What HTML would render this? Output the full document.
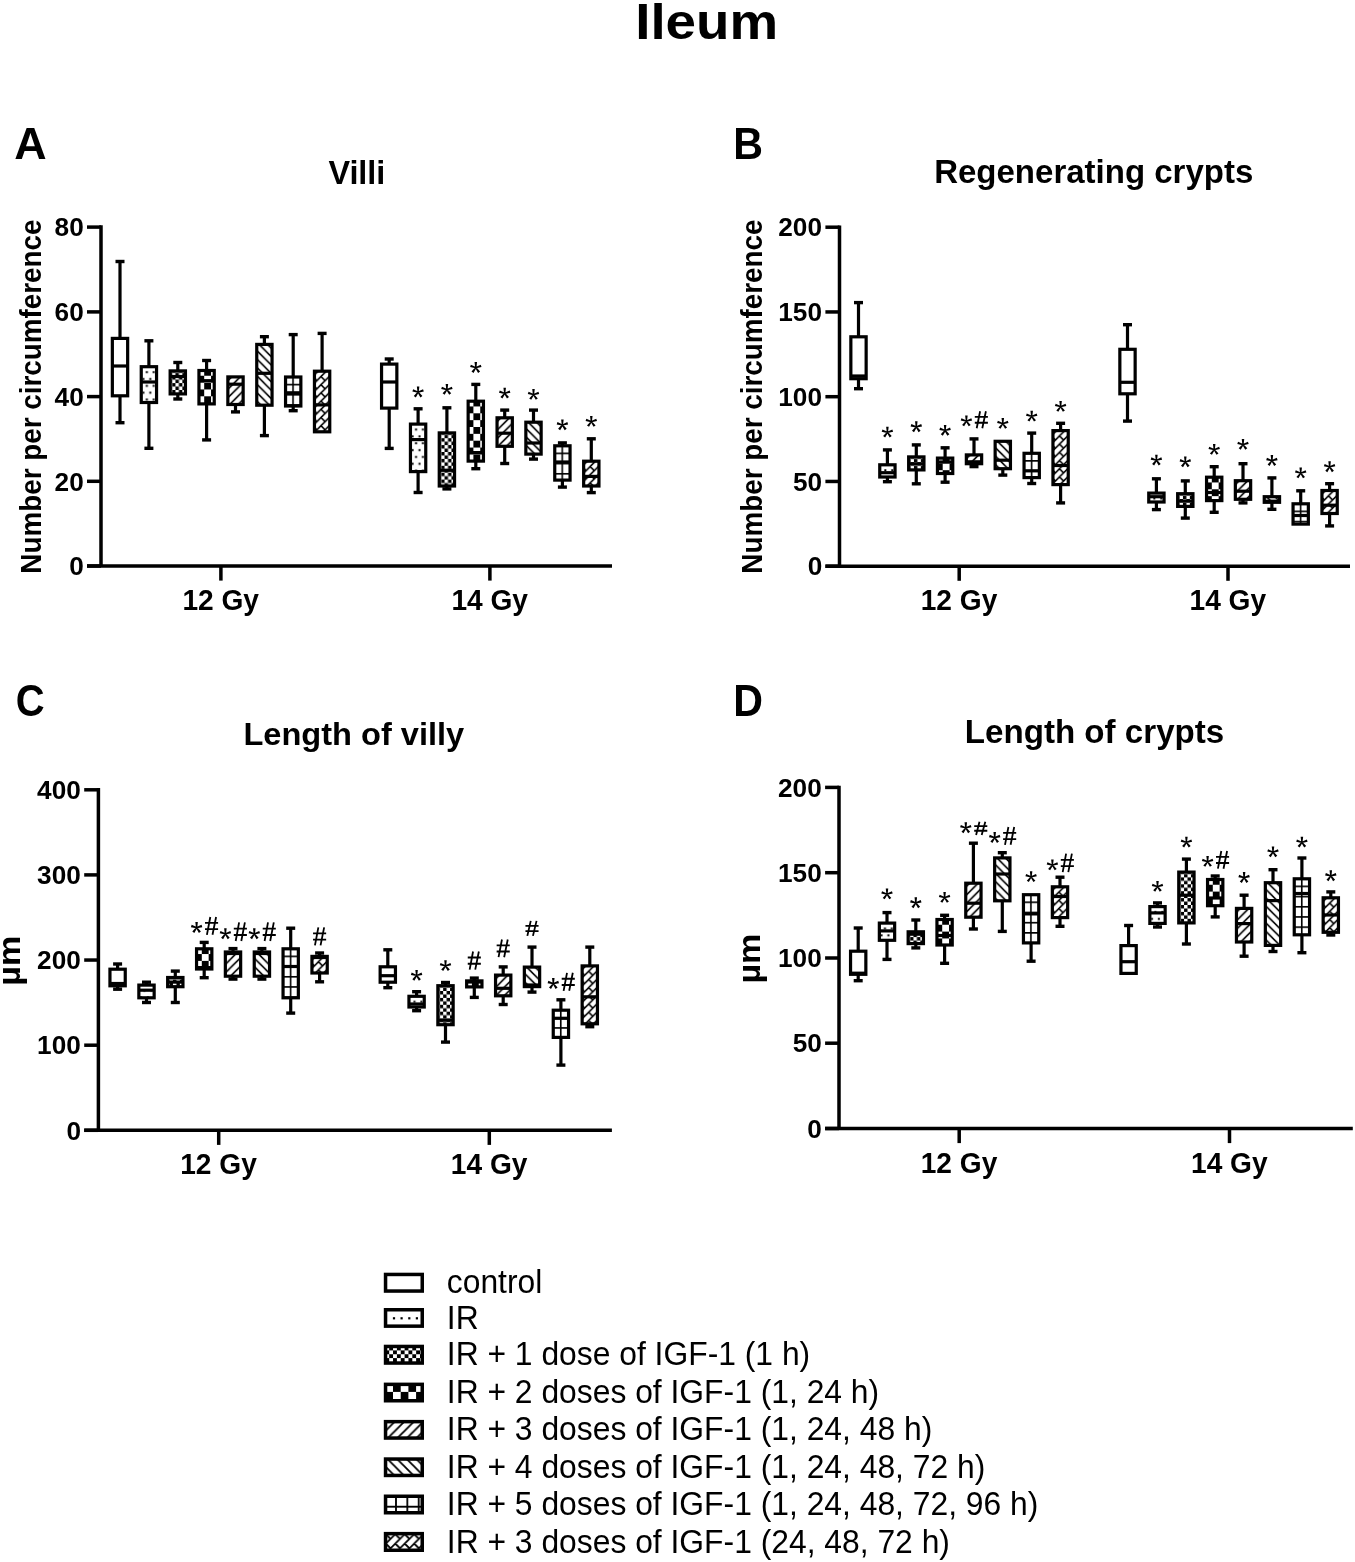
<!DOCTYPE html>
<html><head><meta charset="utf-8"><title>Ileum</title>
<style>
html,body{margin:0;padding:0;background:#fff;}
body{width:1355px;height:1562px;overflow:hidden;}
svg{display:block;will-change:transform;}
text{font-family:"Liberation Sans", sans-serif;fill:#000;}
.b{font-weight:bold;}
</style></head><body>

<svg width="1355" height="1562" viewBox="0 0 1355 1562">
<defs><pattern id="L1" patternUnits="userSpaceOnUse" x="390.2" y="1298.3" width="7.6" height="40"><rect width="7.6" height="40" fill="#fff"/><rect x="2.7" y="18.9" width="2.2" height="2.2" fill="#000"/></pattern><pattern id="L2" patternUnits="userSpaceOnUse" x="385.35" y="1346.55" width="7.7" height="7.7"><rect width="7.7" height="7.7" fill="#fff"/><rect x="3.85" width="3.85" height="3.85" fill="#000"/><rect y="3.85" width="3.85" height="3.85" fill="#000"/></pattern><pattern id="L3" patternUnits="userSpaceOnUse" x="385.3" y="1384.2" width="15.4" height="15.4"><rect width="15.4" height="15.4" fill="#fff"/><rect x="7.7" width="7.7" height="7.7" fill="#000"/><rect y="7.7" width="7.7" height="7.7" fill="#000"/></pattern><pattern id="L4" patternUnits="userSpaceOnUse" x="1.9" y="0" width="9.55" height="9.55"><rect width="9.55" height="9.55" fill="#fff"/><path d="M-2 2L2 -2M-2 11.55L11.55 -2M7.55 11.55L11.55 7.55" stroke="#000" stroke-width="1.8"/></pattern><pattern id="L5" patternUnits="userSpaceOnUse" x="0" y="5.9" width="9.6" height="9.6"><rect width="9.6" height="9.6" fill="#fff"/><path d="M-2 -2L11.6 11.6M-2 7.6L2 11.6M7.6 -2L11.6 2" stroke="#000" stroke-width="1.8"/></pattern><pattern id="L6" patternUnits="userSpaceOnUse" x="390.32" y="1501.03" width="11.35" height="11.35"><rect width="11.35" height="11.35" fill="#fff"/><path d="M0 5.67H11.35M5.67 0V11.35" stroke="#000" stroke-width="1.8"/></pattern><pattern id="L7" patternUnits="userSpaceOnUse" x="392.92" y="1531.78" width="9.45" height="9.45"><rect width="9.45" height="9.45" fill="#fff"/><path d="M-2 -2.7L-2.7 -2M-2 6.75L6.75 -2M-2 16.2L16.2 -2M-2 25.65L25.65 -2M2.36 2.36L7.09 7.09" stroke="#000" stroke-width="1.8"/></pattern></defs>
<text class="b" transform="translate(635.17,39.49) scale(1.0834,1)" font-size="50.541">Ileum</text>
<text class="b" transform="translate(14.25,159.15) scale(1.0032,1)" font-size="44.706">A</text>
<text class="b" transform="translate(733.32,158.7) scale(0.9432,1)" font-size="43.623">B</text>
<text class="b" transform="translate(15.8,716.16) scale(0.9161,1)" font-size="43.662">C</text>
<text class="b" transform="translate(733.32,716.3) scale(0.9432,1)" font-size="43.623">D</text>
<text class="b" transform="translate(328.38,183.6) scale(0.9688,1)" font-size="33.425">Villi</text>
<text class="b" transform="translate(934.19,183.19) scale(1.0171,1)" font-size="32.447">Regenerating crypts</text>
<text class="b" transform="translate(243.42,744.78) scale(1.0175,1)" font-size="32.021">Length of villy</text>
<text class="b" transform="translate(964.78,742.97) scale(1.0047,1)" font-size="32.979">Length of crypts</text>
<g stroke="#000" stroke-width="3.5" fill="none" stroke-linecap="butt">
<path d="M101 225.35 V566 M87 566 H612" />
<line x1="87" y1="227.1" x2="101" y2="227.1"/>
<line x1="87" y1="311.9" x2="101" y2="311.9"/>
<line x1="87" y1="396.6" x2="101" y2="396.6"/>
<line x1="87" y1="481.3" x2="101" y2="481.3"/>
<line x1="87" y1="566" x2="101" y2="566"/>
<line x1="220.9" y1="566" x2="220.9" y2="580.6"/>
<line x1="489.9" y1="566" x2="489.9" y2="580.6"/>
<path d="M839.5 225.45 V566.2 M825.4 566.2 H1350" />
<line x1="825.4" y1="227.2" x2="839.5" y2="227.2"/>
<line x1="825.4" y1="311.95" x2="839.5" y2="311.95"/>
<line x1="825.4" y1="396.7" x2="839.5" y2="396.7"/>
<line x1="825.4" y1="481.45" x2="839.5" y2="481.45"/>
<line x1="825.4" y1="566.2" x2="839.5" y2="566.2"/>
<line x1="959.2" y1="566.2" x2="959.2" y2="580.8"/>
<line x1="1228" y1="566.2" x2="1228" y2="580.8"/>
<path d="M98.4 788.05 V1130.3 M84.2 1130.3 H611.9" />
<line x1="84.2" y1="789.8" x2="98.4" y2="789.8"/>
<line x1="84.2" y1="874.9" x2="98.4" y2="874.9"/>
<line x1="84.2" y1="960.05" x2="98.4" y2="960.05"/>
<line x1="84.2" y1="1045.2" x2="98.4" y2="1045.2"/>
<line x1="84.2" y1="1130.3" x2="98.4" y2="1130.3"/>
<line x1="218.7" y1="1130.3" x2="218.7" y2="1144.9"/>
<line x1="489.3" y1="1130.3" x2="489.3" y2="1144.9"/>
<path d="M839 785.65 V1128.5 M825.1 1128.5 H1352.8" />
<line x1="825.1" y1="787.4" x2="839" y2="787.4"/>
<line x1="825.1" y1="872.7" x2="839" y2="872.7"/>
<line x1="825.1" y1="958" x2="839" y2="958"/>
<line x1="825.1" y1="1043.2" x2="839" y2="1043.2"/>
<line x1="825.1" y1="1128.5" x2="839" y2="1128.5"/>
<line x1="959.2" y1="1128.5" x2="959.2" y2="1143.1"/>
<line x1="1229.5" y1="1128.5" x2="1229.5" y2="1143.1"/>
</g>
<text class="b" transform="translate(54.57,236.34)" font-size="26.197">80</text>
<text class="b" transform="translate(54.57,321.14)" font-size="26.197">60</text>
<text class="b" transform="translate(54.57,405.84)" font-size="26.197">40</text>
<text class="b" transform="translate(54.57,490.54)" font-size="26.197">20</text>
<text class="b" transform="translate(69.24,575.24)" font-size="26.197">0</text>
<text class="b" transform="translate(182.41,610.06) scale(0.9620,1)" font-size="29.231">12 Gy</text>
<text class="b" transform="translate(451.41,610.06) scale(0.9620,1)" font-size="29.231">14 Gy</text>
<text class="b" transform="translate(778.3,236.44)" font-size="26.197">200</text>
<text class="b" transform="translate(778.3,321.19)" font-size="26.197">150</text>
<text class="b" transform="translate(778.3,405.94)" font-size="26.197">100</text>
<text class="b" transform="translate(792.97,490.69)" font-size="26.197">50</text>
<text class="b" transform="translate(807.64,575.44)" font-size="26.197">0</text>
<text class="b" transform="translate(920.71,610.26) scale(0.9620,1)" font-size="29.231">12 Gy</text>
<text class="b" transform="translate(1189.51,610.26) scale(0.9620,1)" font-size="29.231">14 Gy</text>
<text class="b" transform="translate(37.1,799.04)" font-size="26.197">400</text>
<text class="b" transform="translate(37.1,884.14)" font-size="26.197">300</text>
<text class="b" transform="translate(37.1,969.29)" font-size="26.197">200</text>
<text class="b" transform="translate(37.1,1054.44)" font-size="26.197">100</text>
<text class="b" transform="translate(66.44,1139.54)" font-size="26.197">0</text>
<text class="b" transform="translate(180.21,1174.36) scale(0.9620,1)" font-size="29.231">12 Gy</text>
<text class="b" transform="translate(450.81,1174.36) scale(0.9620,1)" font-size="29.231">14 Gy</text>
<text class="b" transform="translate(778,796.64)" font-size="26.197">200</text>
<text class="b" transform="translate(778,881.94)" font-size="26.197">150</text>
<text class="b" transform="translate(778,967.24)" font-size="26.197">100</text>
<text class="b" transform="translate(792.67,1052.44)" font-size="26.197">50</text>
<text class="b" transform="translate(807.34,1137.74)" font-size="26.197">0</text>
<text class="b" transform="translate(920.71,1172.56) scale(0.9620,1)" font-size="29.231">12 Gy</text>
<text class="b" transform="translate(1191.01,1172.56) scale(0.9620,1)" font-size="29.231">14 Gy</text>
<text class="b" transform="translate(41.08,573.65) rotate(-90) scale(0.9592,1)" font-size="29.019">Number per circumference</text>
<text class="b" transform="translate(762.38,573.65) rotate(-90) scale(0.9685,1)" font-size="28.742">Number per circumference</text>
<text class="b" transform="translate(19.62,985.68) rotate(-90) scale(1.0556,1)" font-size="32.267">µm</text>
<text class="b" transform="translate(760.18,983.58) rotate(-90) scale(1.0644,1)" font-size="32.000">µm</text>
<g stroke="#000" stroke-width="3.2" stroke-linecap="butt" stroke-linejoin="miter">
<line x1="120" y1="261.5" x2="120" y2="338.4"/>
<line x1="115.5" y1="261.5" x2="124.5" y2="261.5" stroke-width="3.4"/>
<line x1="120" y1="395.8" x2="120" y2="422.7"/>
<line x1="115.5" y1="422.7" x2="124.5" y2="422.7" stroke-width="3.4"/>
<rect x="112.35" y="338.4" width="15.3" height="57.4" fill="#fff"/>
<line x1="112.35" y1="366" x2="127.65" y2="366"/>
<line x1="148.9" y1="340.8" x2="148.9" y2="366.7"/>
<line x1="144.4" y1="340.8" x2="153.4" y2="340.8" stroke-width="3.4"/>
<line x1="148.9" y1="402.5" x2="148.9" y2="448.3"/>
<line x1="144.4" y1="448.3" x2="153.4" y2="448.3" stroke-width="3.4"/>
<rect x="141.25" y="366.7" width="15.3" height="35.8" fill="url(#q0)"/>
<line x1="141.25" y1="382" x2="156.55" y2="382"/>
<line x1="177.8" y1="362.5" x2="177.8" y2="370.9"/>
<line x1="173.3" y1="362.5" x2="182.3" y2="362.5" stroke-width="3.4"/>
<line x1="177.8" y1="393.9" x2="177.8" y2="399"/>
<line x1="173.3" y1="399" x2="182.3" y2="399" stroke-width="3.4"/>
<rect x="170.15" y="370.9" width="15.3" height="23" fill="url(#q1)"/>
<line x1="170.15" y1="376.5" x2="185.45" y2="376.5"/>
<line x1="206.6" y1="360.5" x2="206.6" y2="370.5"/>
<line x1="202.1" y1="360.5" x2="211.1" y2="360.5" stroke-width="3.4"/>
<line x1="206.6" y1="403.9" x2="206.6" y2="439.9"/>
<line x1="202.1" y1="439.9" x2="211.1" y2="439.9" stroke-width="3.4"/>
<rect x="198.95" y="370.5" width="15.3" height="33.4" fill="url(#q2)"/>
<line x1="198.95" y1="380.7" x2="214.25" y2="380.7"/>
<line x1="235.5" y1="404.5" x2="235.5" y2="411.9"/>
<line x1="231" y1="411.9" x2="240" y2="411.9" stroke-width="3.4"/>
<rect x="227.85" y="376.9" width="15.3" height="27.6" fill="url(#q3)"/>
<line x1="227.85" y1="384.2" x2="243.15" y2="384.2"/>
<line x1="264.4" y1="336.7" x2="264.4" y2="344.4"/>
<line x1="259.9" y1="336.7" x2="268.9" y2="336.7" stroke-width="3.4"/>
<line x1="264.4" y1="405.2" x2="264.4" y2="435.6"/>
<line x1="259.9" y1="435.6" x2="268.9" y2="435.6" stroke-width="3.4"/>
<rect x="256.75" y="344.4" width="15.3" height="60.8" fill="url(#q4)"/>
<line x1="256.75" y1="373.3" x2="272.05" y2="373.3"/>
<line x1="293.2" y1="334.6" x2="293.2" y2="377"/>
<line x1="288.7" y1="334.6" x2="297.7" y2="334.6" stroke-width="3.4"/>
<line x1="293.2" y1="406" x2="293.2" y2="410.7"/>
<line x1="288.7" y1="410.7" x2="297.7" y2="410.7" stroke-width="3.4"/>
<rect x="285.55" y="377" width="15.3" height="29" fill="url(#q5)"/>
<line x1="285.55" y1="392.8" x2="300.85" y2="392.8"/>
<line x1="322.1" y1="333.4" x2="322.1" y2="371.2"/>
<line x1="317.6" y1="333.4" x2="326.6" y2="333.4" stroke-width="3.4"/>
<rect x="314.45" y="371.2" width="15.3" height="60.6" fill="url(#q6)"/>
<line x1="314.45" y1="404.9" x2="329.75" y2="404.9"/>
<line x1="389.2" y1="359" x2="389.2" y2="364.1"/>
<line x1="384.7" y1="359" x2="393.7" y2="359" stroke-width="3.4"/>
<line x1="389.2" y1="408.1" x2="389.2" y2="448.4"/>
<line x1="384.7" y1="448.4" x2="393.7" y2="448.4" stroke-width="3.4"/>
<rect x="381.55" y="364.1" width="15.3" height="44" fill="#fff"/>
<line x1="381.55" y1="382" x2="396.85" y2="382"/>
<line x1="418.1" y1="408.8" x2="418.1" y2="424.1"/>
<line x1="413.6" y1="408.8" x2="422.6" y2="408.8" stroke-width="3.4"/>
<line x1="418.1" y1="471.6" x2="418.1" y2="492.5"/>
<line x1="413.6" y1="492.5" x2="422.6" y2="492.5" stroke-width="3.4"/>
<rect x="410.45" y="424.1" width="15.3" height="47.5" fill="url(#q7)"/>
<line x1="410.45" y1="439.6" x2="425.75" y2="439.6"/>
<line x1="446.9" y1="407.8" x2="446.9" y2="432.9"/>
<line x1="442.4" y1="407.8" x2="451.4" y2="407.8" stroke-width="3.4"/>
<line x1="446.9" y1="486" x2="446.9" y2="488.9"/>
<line x1="442.4" y1="488.9" x2="451.4" y2="488.9" stroke-width="3.4"/>
<rect x="439.25" y="432.9" width="15.3" height="53.1" fill="url(#q8)"/>
<line x1="439.25" y1="470.3" x2="454.55" y2="470.3"/>
<line x1="475.8" y1="384.4" x2="475.8" y2="401.2"/>
<line x1="471.3" y1="384.4" x2="480.3" y2="384.4" stroke-width="3.4"/>
<line x1="475.8" y1="461.1" x2="475.8" y2="468.7"/>
<line x1="471.3" y1="468.7" x2="480.3" y2="468.7" stroke-width="3.4"/>
<rect x="468.15" y="401.2" width="15.3" height="59.9" fill="url(#q9)"/>
<line x1="468.15" y1="452.6" x2="483.45" y2="452.6"/>
<line x1="504.7" y1="410.1" x2="504.7" y2="417.8"/>
<line x1="500.2" y1="410.1" x2="509.2" y2="410.1" stroke-width="3.4"/>
<line x1="504.7" y1="446.3" x2="504.7" y2="463.5"/>
<line x1="500.2" y1="463.5" x2="509.2" y2="463.5" stroke-width="3.4"/>
<rect x="497.05" y="417.8" width="15.3" height="28.5" fill="url(#q10)"/>
<line x1="497.05" y1="433.2" x2="512.35" y2="433.2"/>
<line x1="533.5" y1="410.1" x2="533.5" y2="422.2"/>
<line x1="529" y1="410.1" x2="538" y2="410.1" stroke-width="3.4"/>
<line x1="533.5" y1="454.1" x2="533.5" y2="459.1"/>
<line x1="529" y1="459.1" x2="538" y2="459.1" stroke-width="3.4"/>
<rect x="525.85" y="422.2" width="15.3" height="31.9" fill="url(#q11)"/>
<line x1="525.85" y1="443" x2="541.15" y2="443"/>
<line x1="562.4" y1="442.9" x2="562.4" y2="445.8"/>
<line x1="557.9" y1="442.9" x2="566.9" y2="442.9" stroke-width="3.4"/>
<line x1="562.4" y1="480.1" x2="562.4" y2="487.1"/>
<line x1="557.9" y1="487.1" x2="566.9" y2="487.1" stroke-width="3.4"/>
<rect x="554.75" y="445.8" width="15.3" height="34.3" fill="url(#q12)"/>
<line x1="554.75" y1="462" x2="570.05" y2="462"/>
<line x1="591.3" y1="438.8" x2="591.3" y2="461.2"/>
<line x1="586.8" y1="438.8" x2="595.8" y2="438.8" stroke-width="3.4"/>
<line x1="591.3" y1="486" x2="591.3" y2="492.6"/>
<line x1="586.8" y1="492.6" x2="595.8" y2="492.6" stroke-width="3.4"/>
<rect x="583.65" y="461.2" width="15.3" height="24.8" fill="url(#q13)"/>
<line x1="583.65" y1="476.4" x2="598.95" y2="476.4"/>
<line x1="858.5" y1="302.6" x2="858.5" y2="336.8"/>
<line x1="854" y1="302.6" x2="863" y2="302.6" stroke-width="3.4"/>
<line x1="858.5" y1="378.7" x2="858.5" y2="388.7"/>
<line x1="854" y1="388.7" x2="863" y2="388.7" stroke-width="3.4"/>
<rect x="850.85" y="336.8" width="15.3" height="41.9" fill="#fff"/>
<line x1="850.85" y1="376" x2="866.15" y2="376"/>
<line x1="887.4" y1="449.9" x2="887.4" y2="464.8"/>
<line x1="882.9" y1="449.9" x2="891.9" y2="449.9" stroke-width="3.4"/>
<line x1="887.4" y1="477" x2="887.4" y2="481.7"/>
<line x1="882.9" y1="481.7" x2="891.9" y2="481.7" stroke-width="3.4"/>
<rect x="879.75" y="464.8" width="15.3" height="12.2" fill="url(#q14)"/>
<line x1="879.75" y1="472.7" x2="895.05" y2="472.7"/>
<line x1="916.3" y1="444.9" x2="916.3" y2="456.9"/>
<line x1="911.8" y1="444.9" x2="920.8" y2="444.9" stroke-width="3.4"/>
<line x1="916.3" y1="469.9" x2="916.3" y2="483.8"/>
<line x1="911.8" y1="483.8" x2="920.8" y2="483.8" stroke-width="3.4"/>
<rect x="908.65" y="456.9" width="15.3" height="13" fill="url(#q15)"/>
<line x1="908.65" y1="463.8" x2="923.95" y2="463.8"/>
<line x1="945.1" y1="447.8" x2="945.1" y2="458.1"/>
<line x1="940.6" y1="447.8" x2="949.6" y2="447.8" stroke-width="3.4"/>
<line x1="945.1" y1="473.5" x2="945.1" y2="482.2"/>
<line x1="940.6" y1="482.2" x2="949.6" y2="482.2" stroke-width="3.4"/>
<rect x="937.45" y="458.1" width="15.3" height="15.4" fill="url(#q16)"/>
<line x1="937.45" y1="462" x2="952.75" y2="462"/>
<line x1="974" y1="438.9" x2="974" y2="454.9"/>
<line x1="969.5" y1="438.9" x2="978.5" y2="438.9" stroke-width="3.4"/>
<line x1="974" y1="463.7" x2="974" y2="466.6"/>
<line x1="969.5" y1="466.6" x2="978.5" y2="466.6" stroke-width="3.4"/>
<rect x="966.35" y="454.9" width="15.3" height="8.8" fill="url(#q17)"/>
<line x1="966.35" y1="461.8" x2="981.65" y2="461.8"/>
<line x1="1002.8" y1="468.7" x2="1002.8" y2="475.1"/>
<line x1="998.3" y1="475.1" x2="1007.3" y2="475.1" stroke-width="3.4"/>
<rect x="995.15" y="441.3" width="15.3" height="27.4" fill="url(#q18)"/>
<line x1="995.15" y1="460.2" x2="1010.45" y2="460.2"/>
<line x1="1031.7" y1="433.1" x2="1031.7" y2="453.3"/>
<line x1="1027.2" y1="433.1" x2="1036.2" y2="433.1" stroke-width="3.4"/>
<line x1="1031.7" y1="477.6" x2="1031.7" y2="483.5"/>
<line x1="1027.2" y1="483.5" x2="1036.2" y2="483.5" stroke-width="3.4"/>
<rect x="1024.05" y="453.3" width="15.3" height="24.3" fill="url(#q19)"/>
<line x1="1024.05" y1="470.8" x2="1039.35" y2="470.8"/>
<line x1="1060.6" y1="423.3" x2="1060.6" y2="430.6"/>
<line x1="1056.1" y1="423.3" x2="1065.1" y2="423.3" stroke-width="3.4"/>
<line x1="1060.6" y1="484.6" x2="1060.6" y2="502.9"/>
<line x1="1056.1" y1="502.9" x2="1065.1" y2="502.9" stroke-width="3.4"/>
<rect x="1052.95" y="430.6" width="15.3" height="54" fill="url(#q20)"/>
<line x1="1052.95" y1="465.5" x2="1068.25" y2="465.5"/>
<line x1="1127.5" y1="324.7" x2="1127.5" y2="349.3"/>
<line x1="1123" y1="324.7" x2="1132" y2="324.7" stroke-width="3.4"/>
<line x1="1127.5" y1="393.8" x2="1127.5" y2="421.1"/>
<line x1="1123" y1="421.1" x2="1132" y2="421.1" stroke-width="3.4"/>
<rect x="1119.85" y="349.3" width="15.3" height="44.5" fill="#fff"/>
<line x1="1119.85" y1="382.3" x2="1135.15" y2="382.3"/>
<line x1="1156.4" y1="478.8" x2="1156.4" y2="493.1"/>
<line x1="1151.9" y1="478.8" x2="1160.9" y2="478.8" stroke-width="3.4"/>
<line x1="1156.4" y1="502" x2="1156.4" y2="509.6"/>
<line x1="1151.9" y1="509.6" x2="1160.9" y2="509.6" stroke-width="3.4"/>
<rect x="1148.75" y="493.1" width="15.3" height="8.9" fill="url(#q21)"/>
<line x1="1148.75" y1="496.7" x2="1164.05" y2="496.7"/>
<line x1="1185.3" y1="480.9" x2="1185.3" y2="493.7"/>
<line x1="1180.8" y1="480.9" x2="1189.8" y2="480.9" stroke-width="3.4"/>
<line x1="1185.3" y1="506.4" x2="1185.3" y2="518.1"/>
<line x1="1180.8" y1="518.1" x2="1189.8" y2="518.1" stroke-width="3.4"/>
<rect x="1177.65" y="493.7" width="15.3" height="12.7" fill="url(#q22)"/>
<line x1="1177.65" y1="501" x2="1192.95" y2="501"/>
<line x1="1214.2" y1="466.7" x2="1214.2" y2="477.2"/>
<line x1="1209.7" y1="466.7" x2="1218.7" y2="466.7" stroke-width="3.4"/>
<line x1="1214.2" y1="500.6" x2="1214.2" y2="512.3"/>
<line x1="1209.7" y1="512.3" x2="1218.7" y2="512.3" stroke-width="3.4"/>
<rect x="1206.55" y="477.2" width="15.3" height="23.4" fill="url(#q23)"/>
<line x1="1206.55" y1="492.5" x2="1221.85" y2="492.5"/>
<line x1="1243" y1="463.7" x2="1243" y2="480.7"/>
<line x1="1238.5" y1="463.7" x2="1247.5" y2="463.7" stroke-width="3.4"/>
<line x1="1243" y1="499.3" x2="1243" y2="502.9"/>
<line x1="1238.5" y1="502.9" x2="1247.5" y2="502.9" stroke-width="3.4"/>
<rect x="1235.35" y="480.7" width="15.3" height="18.6" fill="url(#q24)"/>
<line x1="1235.35" y1="491.2" x2="1250.65" y2="491.2"/>
<line x1="1271.9" y1="477.9" x2="1271.9" y2="496.7"/>
<line x1="1267.4" y1="477.9" x2="1276.4" y2="477.9" stroke-width="3.4"/>
<line x1="1271.9" y1="502.3" x2="1271.9" y2="509.3"/>
<line x1="1267.4" y1="509.3" x2="1276.4" y2="509.3" stroke-width="3.4"/>
<rect x="1264.25" y="496.7" width="15.3" height="5.6" fill="url(#q25)"/>
<line x1="1264.25" y1="501.2" x2="1279.55" y2="501.2"/>
<line x1="1300.7" y1="490.8" x2="1300.7" y2="503.8"/>
<line x1="1296.2" y1="490.8" x2="1305.2" y2="490.8" stroke-width="3.4"/>
<rect x="1293.05" y="503.8" width="15.3" height="20.3" fill="url(#q26)"/>
<line x1="1293.05" y1="515.5" x2="1308.35" y2="515.5"/>
<line x1="1329.6" y1="483.7" x2="1329.6" y2="490.5"/>
<line x1="1325.1" y1="483.7" x2="1334.1" y2="483.7" stroke-width="3.4"/>
<line x1="1329.6" y1="513.5" x2="1329.6" y2="525.9"/>
<line x1="1325.1" y1="525.9" x2="1334.1" y2="525.9" stroke-width="3.4"/>
<rect x="1321.95" y="490.5" width="15.3" height="23" fill="url(#q27)"/>
<line x1="1321.95" y1="505.2" x2="1337.25" y2="505.2"/>
<line x1="117.6" y1="964" x2="117.6" y2="969.2"/>
<line x1="113.1" y1="964" x2="122.1" y2="964" stroke-width="3.4"/>
<line x1="117.6" y1="985.8" x2="117.6" y2="989.2"/>
<line x1="113.1" y1="989.2" x2="122.1" y2="989.2" stroke-width="3.4"/>
<rect x="109.95" y="969.2" width="15.3" height="16.6" fill="#fff"/>
<line x1="109.95" y1="983.5" x2="125.25" y2="983.5"/>
<line x1="146.5" y1="982.2" x2="146.5" y2="985.1"/>
<line x1="142" y1="982.2" x2="151" y2="982.2" stroke-width="3.4"/>
<line x1="146.5" y1="997.8" x2="146.5" y2="1002.5"/>
<line x1="142" y1="1002.5" x2="151" y2="1002.5" stroke-width="3.4"/>
<rect x="138.85" y="985.1" width="15.3" height="12.7" fill="url(#q28)"/>
<line x1="138.85" y1="990.2" x2="154.15" y2="990.2"/>
<line x1="175.3" y1="971.1" x2="175.3" y2="977.5"/>
<line x1="170.8" y1="971.1" x2="179.8" y2="971.1" stroke-width="3.4"/>
<line x1="175.3" y1="986.7" x2="175.3" y2="1002.5"/>
<line x1="170.8" y1="1002.5" x2="179.8" y2="1002.5" stroke-width="3.4"/>
<rect x="167.65" y="977.5" width="15.3" height="9.2" fill="url(#q29)"/>
<line x1="167.65" y1="982.1" x2="182.95" y2="982.1"/>
<line x1="204.2" y1="942.4" x2="204.2" y2="948.8"/>
<line x1="199.7" y1="942.4" x2="208.7" y2="942.4" stroke-width="3.4"/>
<line x1="204.2" y1="969" x2="204.2" y2="977.7"/>
<line x1="199.7" y1="977.7" x2="208.7" y2="977.7" stroke-width="3.4"/>
<rect x="196.55" y="948.8" width="15.3" height="20.2" fill="url(#q30)"/>
<line x1="196.55" y1="967.6" x2="211.85" y2="967.6"/>
<line x1="233" y1="948.6" x2="233" y2="952"/>
<line x1="228.5" y1="948.6" x2="237.5" y2="948.6" stroke-width="3.4"/>
<line x1="233" y1="976.2" x2="233" y2="979.1"/>
<line x1="228.5" y1="979.1" x2="237.5" y2="979.1" stroke-width="3.4"/>
<rect x="225.35" y="952" width="15.3" height="24.2" fill="url(#q31)"/>
<line x1="225.35" y1="953.5" x2="240.65" y2="953.5"/>
<line x1="261.9" y1="948.6" x2="261.9" y2="952"/>
<line x1="257.4" y1="948.6" x2="266.4" y2="948.6" stroke-width="3.4"/>
<line x1="261.9" y1="976.2" x2="261.9" y2="979.1"/>
<line x1="257.4" y1="979.1" x2="266.4" y2="979.1" stroke-width="3.4"/>
<rect x="254.25" y="952" width="15.3" height="24.2" fill="url(#q32)"/>
<line x1="254.25" y1="953.5" x2="269.55" y2="953.5"/>
<line x1="290.7" y1="928.2" x2="290.7" y2="948.8"/>
<line x1="286.2" y1="928.2" x2="295.2" y2="928.2" stroke-width="3.4"/>
<line x1="290.7" y1="997.8" x2="290.7" y2="1013.1"/>
<line x1="286.2" y1="1013.1" x2="295.2" y2="1013.1" stroke-width="3.4"/>
<rect x="283.05" y="948.8" width="15.3" height="49" fill="url(#q33)"/>
<line x1="283.05" y1="966.5" x2="298.35" y2="966.5"/>
<line x1="319.6" y1="953" x2="319.6" y2="956.4"/>
<line x1="315.1" y1="953" x2="324.1" y2="953" stroke-width="3.4"/>
<line x1="319.6" y1="973" x2="319.6" y2="981.8"/>
<line x1="315.1" y1="981.8" x2="324.1" y2="981.8" stroke-width="3.4"/>
<rect x="311.95" y="956.4" width="15.3" height="16.6" fill="url(#q34)"/>
<line x1="311.95" y1="957.5" x2="327.25" y2="957.5"/>
<line x1="387.8" y1="949.8" x2="387.8" y2="966.8"/>
<line x1="383.3" y1="949.8" x2="392.3" y2="949.8" stroke-width="3.4"/>
<line x1="387.8" y1="982.2" x2="387.8" y2="987.7"/>
<line x1="383.3" y1="987.7" x2="392.3" y2="987.7" stroke-width="3.4"/>
<rect x="380.15" y="966.8" width="15.3" height="15.4" fill="#fff"/>
<line x1="380.15" y1="975.7" x2="395.45" y2="975.7"/>
<line x1="416.6" y1="991.7" x2="416.6" y2="996.3"/>
<line x1="412.1" y1="991.7" x2="421.1" y2="991.7" stroke-width="3.4"/>
<line x1="416.6" y1="1007" x2="416.6" y2="1010.7"/>
<line x1="412.1" y1="1010.7" x2="421.1" y2="1010.7" stroke-width="3.4"/>
<rect x="408.95" y="996.3" width="15.3" height="10.7" fill="url(#q35)"/>
<line x1="408.95" y1="1004" x2="424.25" y2="1004"/>
<line x1="445.5" y1="982.5" x2="445.5" y2="985.7"/>
<line x1="441" y1="982.5" x2="450" y2="982.5" stroke-width="3.4"/>
<line x1="445.5" y1="1024.7" x2="445.5" y2="1042.1"/>
<line x1="441" y1="1042.1" x2="450" y2="1042.1" stroke-width="3.4"/>
<rect x="437.85" y="985.7" width="15.3" height="39" fill="url(#q36)"/>
<line x1="437.85" y1="1020.2" x2="453.15" y2="1020.2"/>
<line x1="474.3" y1="978.1" x2="474.3" y2="980.9"/>
<line x1="469.8" y1="978.1" x2="478.8" y2="978.1" stroke-width="3.4"/>
<line x1="474.3" y1="986.9" x2="474.3" y2="997.4"/>
<line x1="469.8" y1="997.4" x2="478.8" y2="997.4" stroke-width="3.4"/>
<rect x="466.65" y="980.9" width="15.3" height="6" fill="url(#q37)"/>
<line x1="466.65" y1="982" x2="481.95" y2="982"/>
<line x1="503.2" y1="966.9" x2="503.2" y2="975.1"/>
<line x1="498.7" y1="966.9" x2="507.7" y2="966.9" stroke-width="3.4"/>
<line x1="503.2" y1="995.8" x2="503.2" y2="1004.5"/>
<line x1="498.7" y1="1004.5" x2="507.7" y2="1004.5" stroke-width="3.4"/>
<rect x="495.55" y="975.1" width="15.3" height="20.7" fill="url(#q38)"/>
<line x1="495.55" y1="988.3" x2="510.85" y2="988.3"/>
<line x1="532" y1="947.1" x2="532" y2="967.1"/>
<line x1="527.5" y1="947.1" x2="536.5" y2="947.1" stroke-width="3.4"/>
<line x1="532" y1="986.6" x2="532" y2="992.1"/>
<line x1="527.5" y1="992.1" x2="536.5" y2="992.1" stroke-width="3.4"/>
<rect x="524.35" y="967.1" width="15.3" height="19.5" fill="url(#q39)"/>
<line x1="524.35" y1="985" x2="539.65" y2="985"/>
<line x1="560.9" y1="999.8" x2="560.9" y2="1010.2"/>
<line x1="556.4" y1="999.8" x2="565.4" y2="999.8" stroke-width="3.4"/>
<line x1="560.9" y1="1037.4" x2="560.9" y2="1065.1"/>
<line x1="556.4" y1="1065.1" x2="565.4" y2="1065.1" stroke-width="3.4"/>
<rect x="553.25" y="1010.2" width="15.3" height="27.2" fill="url(#q40)"/>
<line x1="553.25" y1="1018.3" x2="568.55" y2="1018.3"/>
<line x1="589.8" y1="947.1" x2="589.8" y2="965.9"/>
<line x1="585.3" y1="947.1" x2="594.3" y2="947.1" stroke-width="3.4"/>
<line x1="589.8" y1="1023.8" x2="589.8" y2="1026.7"/>
<line x1="585.3" y1="1026.7" x2="594.3" y2="1026.7" stroke-width="3.4"/>
<rect x="582.15" y="965.9" width="15.3" height="57.9" fill="url(#q41)"/>
<line x1="582.15" y1="996.8" x2="597.45" y2="996.8"/>
<line x1="858.2" y1="928" x2="858.2" y2="951.2"/>
<line x1="853.7" y1="928" x2="862.7" y2="928" stroke-width="3.4"/>
<line x1="858.2" y1="974.3" x2="858.2" y2="980.7"/>
<line x1="853.7" y1="980.7" x2="862.7" y2="980.7" stroke-width="3.4"/>
<rect x="850.55" y="951.2" width="15.3" height="23.1" fill="#fff"/>
<line x1="850.55" y1="973.2" x2="865.85" y2="973.2"/>
<line x1="887" y1="912.6" x2="887" y2="923.1"/>
<line x1="882.5" y1="912.6" x2="891.5" y2="912.6" stroke-width="3.4"/>
<line x1="887" y1="940.3" x2="887" y2="959.4"/>
<line x1="882.5" y1="959.4" x2="891.5" y2="959.4" stroke-width="3.4"/>
<rect x="879.35" y="923.1" width="15.3" height="17.2" fill="url(#q42)"/>
<line x1="879.35" y1="930.9" x2="894.65" y2="930.9"/>
<line x1="915.8" y1="920" x2="915.8" y2="931.8"/>
<line x1="911.3" y1="920" x2="920.3" y2="920" stroke-width="3.4"/>
<line x1="915.8" y1="943.6" x2="915.8" y2="947.9"/>
<line x1="911.3" y1="947.9" x2="920.3" y2="947.9" stroke-width="3.4"/>
<rect x="908.15" y="931.8" width="15.3" height="11.8" fill="url(#q43)"/>
<line x1="908.15" y1="934.2" x2="923.45" y2="934.2"/>
<line x1="944.6" y1="915.3" x2="944.6" y2="919.5"/>
<line x1="940.1" y1="915.3" x2="949.1" y2="915.3" stroke-width="3.4"/>
<line x1="944.6" y1="945" x2="944.6" y2="963.3"/>
<line x1="940.1" y1="963.3" x2="949.1" y2="963.3" stroke-width="3.4"/>
<rect x="936.95" y="919.5" width="15.3" height="25.5" fill="url(#q44)"/>
<line x1="936.95" y1="935.5" x2="952.25" y2="935.5"/>
<line x1="973.4" y1="843.2" x2="973.4" y2="883.2"/>
<line x1="968.9" y1="843.2" x2="977.9" y2="843.2" stroke-width="3.4"/>
<line x1="973.4" y1="917.2" x2="973.4" y2="929"/>
<line x1="968.9" y1="929" x2="977.9" y2="929" stroke-width="3.4"/>
<rect x="965.75" y="883.2" width="15.3" height="34" fill="url(#q45)"/>
<line x1="965.75" y1="903.2" x2="981.05" y2="903.2"/>
<line x1="1002.3" y1="852.7" x2="1002.3" y2="857.9"/>
<line x1="997.8" y1="852.7" x2="1006.8" y2="852.7" stroke-width="3.4"/>
<line x1="1002.3" y1="900.8" x2="1002.3" y2="931.4"/>
<line x1="997.8" y1="931.4" x2="1006.8" y2="931.4" stroke-width="3.4"/>
<rect x="994.65" y="857.9" width="15.3" height="42.9" fill="url(#q46)"/>
<line x1="994.65" y1="874" x2="1009.95" y2="874"/>
<line x1="1031.1" y1="942.9" x2="1031.1" y2="961.2"/>
<line x1="1026.6" y1="961.2" x2="1035.6" y2="961.2" stroke-width="3.4"/>
<rect x="1023.45" y="894.7" width="15.3" height="48.2" fill="url(#q47)"/>
<line x1="1023.45" y1="913.9" x2="1038.75" y2="913.9"/>
<line x1="1060" y1="877.2" x2="1060" y2="886.8"/>
<line x1="1055.5" y1="877.2" x2="1064.5" y2="877.2" stroke-width="3.4"/>
<line x1="1060" y1="917.6" x2="1060" y2="926.3"/>
<line x1="1055.5" y1="926.3" x2="1064.5" y2="926.3" stroke-width="3.4"/>
<rect x="1052.35" y="886.8" width="15.3" height="30.8" fill="url(#q48)"/>
<line x1="1052.35" y1="896.5" x2="1067.65" y2="896.5"/>
<line x1="1128.6" y1="925.5" x2="1128.6" y2="945.6"/>
<line x1="1124.1" y1="925.5" x2="1133.1" y2="925.5" stroke-width="3.4"/>
<rect x="1120.95" y="945.6" width="15.3" height="27.8" fill="#fff"/>
<line x1="1120.95" y1="961.7" x2="1136.25" y2="961.7"/>
<line x1="1157.5" y1="902.9" x2="1157.5" y2="906.6"/>
<line x1="1153" y1="902.9" x2="1162" y2="902.9" stroke-width="3.4"/>
<line x1="1157.5" y1="923.4" x2="1157.5" y2="927"/>
<line x1="1153" y1="927" x2="1162" y2="927" stroke-width="3.4"/>
<rect x="1149.85" y="906.6" width="15.3" height="16.8" fill="url(#q49)"/>
<line x1="1149.85" y1="912.9" x2="1165.15" y2="912.9"/>
<line x1="1186.4" y1="859.1" x2="1186.4" y2="872.1"/>
<line x1="1181.9" y1="859.1" x2="1190.9" y2="859.1" stroke-width="3.4"/>
<line x1="1186.4" y1="922.9" x2="1186.4" y2="944"/>
<line x1="1181.9" y1="944" x2="1190.9" y2="944" stroke-width="3.4"/>
<rect x="1178.75" y="872.1" width="15.3" height="50.8" fill="url(#q50)"/>
<line x1="1178.75" y1="895.2" x2="1194.05" y2="895.2"/>
<line x1="1215.2" y1="876" x2="1215.2" y2="879.5"/>
<line x1="1210.7" y1="876" x2="1219.7" y2="876" stroke-width="3.4"/>
<line x1="1215.2" y1="905.7" x2="1215.2" y2="916.9"/>
<line x1="1210.7" y1="916.9" x2="1219.7" y2="916.9" stroke-width="3.4"/>
<rect x="1207.55" y="879.5" width="15.3" height="26.2" fill="url(#q51)"/>
<line x1="1207.55" y1="898" x2="1222.85" y2="898"/>
<line x1="1244.1" y1="895.2" x2="1244.1" y2="908.4"/>
<line x1="1239.6" y1="895.2" x2="1248.6" y2="895.2" stroke-width="3.4"/>
<line x1="1244.1" y1="942" x2="1244.1" y2="956.2"/>
<line x1="1239.6" y1="956.2" x2="1248.6" y2="956.2" stroke-width="3.4"/>
<rect x="1236.45" y="908.4" width="15.3" height="33.6" fill="url(#q52)"/>
<line x1="1236.45" y1="923.6" x2="1251.75" y2="923.6"/>
<line x1="1273" y1="869.7" x2="1273" y2="882.7"/>
<line x1="1268.5" y1="869.7" x2="1277.5" y2="869.7" stroke-width="3.4"/>
<line x1="1273" y1="945.4" x2="1273" y2="951.5"/>
<line x1="1268.5" y1="951.5" x2="1277.5" y2="951.5" stroke-width="3.4"/>
<rect x="1265.35" y="882.7" width="15.3" height="62.7" fill="url(#q53)"/>
<line x1="1265.35" y1="900.6" x2="1280.65" y2="900.6"/>
<line x1="1301.9" y1="858" x2="1301.9" y2="878.8"/>
<line x1="1297.4" y1="858" x2="1306.4" y2="858" stroke-width="3.4"/>
<line x1="1301.9" y1="934.8" x2="1301.9" y2="952.7"/>
<line x1="1297.4" y1="952.7" x2="1306.4" y2="952.7" stroke-width="3.4"/>
<rect x="1294.25" y="878.8" width="15.3" height="56" fill="url(#q54)"/>
<line x1="1294.25" y1="893.5" x2="1309.55" y2="893.5"/>
<line x1="1330.8" y1="891.9" x2="1330.8" y2="897.8"/>
<line x1="1326.3" y1="891.9" x2="1335.3" y2="891.9" stroke-width="3.4"/>
<line x1="1330.8" y1="932.3" x2="1330.8" y2="935"/>
<line x1="1326.3" y1="935" x2="1335.3" y2="935" stroke-width="3.4"/>
<rect x="1323.15" y="897.8" width="15.3" height="34.5" fill="url(#q55)"/>
<line x1="1323.15" y1="915" x2="1338.45" y2="915"/>
</g>
<path d="M418.75 392.15L419.35 386.55L416.85 386.55L417.45 392.15ZM418.3 392.77L423.81 391.61L423.04 389.23L417.9 391.53ZM417.57 392.53L420.38 397.42L422.4 395.95L418.63 391.77ZM417.57 391.77L413.8 395.95L415.82 397.42L418.63 392.53ZM418.3 391.53L413.16 389.23L412.39 391.61L417.9 392.77Z" fill="#000"/>
<path d="M447.55 389.55L448.15 383.95L445.65 383.95L446.25 389.55ZM447.1 390.17L452.61 389.01L451.84 386.63L446.7 388.93ZM446.37 389.93L449.18 394.82L451.2 393.35L447.43 389.17ZM446.37 389.17L442.6 393.35L444.62 394.82L447.43 389.93ZM447.1 388.93L441.96 386.63L441.19 389.01L446.7 390.17Z" fill="#000"/>
<path d="M476.45 367.65L477.05 362.05L474.55 362.05L475.15 367.65ZM476 368.27L481.51 367.11L480.74 364.73L475.6 367.03ZM475.27 368.03L478.08 372.92L480.1 371.45L476.33 367.27ZM475.27 367.27L471.5 371.45L473.52 372.92L476.33 368.03ZM476 367.03L470.86 364.73L470.09 367.11L475.6 368.27Z" fill="#000"/>
<path d="M505.35 393.3L505.95 387.7L503.45 387.7L504.05 393.3ZM504.9 393.92L510.41 392.76L509.64 390.38L504.5 392.68ZM504.17 393.68L506.98 398.57L509 397.1L505.23 392.92ZM504.17 392.92L500.4 397.1L502.42 398.57L505.23 393.68ZM504.9 392.68L499.76 390.38L498.99 392.76L504.5 393.92Z" fill="#000"/>
<path d="M534.15 394.6L534.75 389L532.25 389L532.85 394.6ZM533.7 395.22L539.21 394.06L538.44 391.68L533.3 393.98ZM532.97 394.98L535.78 399.87L537.8 398.4L534.03 394.22ZM532.97 394.22L529.2 398.4L531.22 399.87L534.03 394.98ZM533.7 393.98L528.56 391.68L527.79 394.06L533.3 395.22Z" fill="#000"/>
<path d="M563.05 425L563.65 419.4L561.15 419.4L561.75 425ZM562.6 425.62L568.11 424.46L567.34 422.08L562.2 424.38ZM561.87 425.38L564.68 430.27L566.7 428.8L562.93 424.62ZM561.87 424.62L558.1 428.8L560.12 430.27L562.93 425.38ZM562.6 424.38L557.46 422.08L556.69 424.46L562.2 425.62Z" fill="#000"/>
<path d="M591.95 421.6L592.55 416L590.05 416L590.65 421.6ZM591.5 422.22L597.01 421.06L596.24 418.68L591.1 420.98ZM590.77 421.98L593.58 426.87L595.6 425.4L591.83 421.22ZM590.77 421.22L587 425.4L589.02 426.87L591.83 421.98ZM591.5 420.98L586.36 418.68L585.59 421.06L591.1 422.22Z" fill="#000"/>
<path d="M888.05 432.3L888.65 426.7L886.15 426.7L886.75 432.3ZM887.6 432.92L893.11 431.76L892.34 429.38L887.2 431.68ZM886.87 432.68L889.68 437.57L891.7 436.1L887.93 431.92ZM886.87 431.92L883.1 436.1L885.12 437.57L887.93 432.68ZM887.6 431.68L882.46 429.38L881.69 431.76L887.2 432.92Z" fill="#000"/>
<path d="M916.95 426.95L917.55 421.35L915.05 421.35L915.65 426.95ZM916.5 427.57L922.01 426.41L921.24 424.03L916.1 426.33ZM915.77 427.33L918.58 432.22L920.6 430.75L916.83 426.57ZM915.77 426.57L912 430.75L914.02 432.22L916.83 427.33ZM916.5 426.33L911.36 424.03L910.59 426.41L916.1 427.57Z" fill="#000"/>
<path d="M945.75 430.5L946.35 424.9L943.85 424.9L944.45 430.5ZM945.3 431.12L950.81 429.96L950.04 427.58L944.9 429.88ZM944.57 430.88L947.38 435.77L949.4 434.3L945.63 430.12ZM944.57 430.12L940.8 434.3L942.82 435.77L945.63 430.88ZM945.3 429.88L940.16 427.58L939.39 429.96L944.9 431.12Z" fill="#000"/>
<path d="M967.05 421.1L967.65 415.5L965.15 415.5L965.75 421.1ZM966.6 421.72L972.11 420.56L971.34 418.18L966.2 420.48ZM965.87 421.48L968.68 426.37L970.7 424.9L966.93 420.72ZM965.87 420.72L962.1 424.9L964.12 426.37L966.93 421.48ZM966.6 420.48L961.46 418.18L960.69 420.56L966.2 421.72Z" fill="#000"/>
<path d="M980.1 411.3L976.7 428.2M985.9 411.3L982.3 428.2M974.8 416.9H987.9M974.8 422.74H987.9" stroke="#000" stroke-width="1.8" fill="none"/>
<path d="M1003.45 423.6L1004.05 418L1001.55 418L1002.15 423.6ZM1003 424.22L1008.51 423.06L1007.74 420.68L1002.6 422.98ZM1002.27 423.98L1005.08 428.87L1007.1 427.4L1003.33 423.22ZM1002.27 423.22L998.5 427.4L1000.52 428.87L1003.33 423.98ZM1003 422.98L997.86 420.68L997.09 423.06L1002.6 424.22Z" fill="#000"/>
<path d="M1032.35 416.35L1032.95 410.75L1030.45 410.75L1031.05 416.35ZM1031.9 416.97L1037.41 415.81L1036.64 413.43L1031.5 415.73ZM1031.17 416.73L1033.98 421.62L1036 420.15L1032.23 415.97ZM1031.17 415.97L1027.4 420.15L1029.42 421.62L1032.23 416.73ZM1031.9 415.73L1026.76 413.43L1025.99 415.81L1031.5 416.97Z" fill="#000"/>
<path d="M1061.25 406.6L1061.85 401L1059.35 401L1059.95 406.6ZM1060.8 407.22L1066.31 406.06L1065.54 403.68L1060.4 405.98ZM1060.07 406.98L1062.88 411.87L1064.9 410.4L1061.13 406.22ZM1060.07 406.22L1056.3 410.4L1058.32 411.87L1061.13 406.98ZM1060.8 405.98L1055.66 403.68L1054.89 406.06L1060.4 407.22Z" fill="#000"/>
<path d="M1157.05 460.25L1157.65 454.65L1155.15 454.65L1155.75 460.25ZM1156.6 460.87L1162.11 459.71L1161.34 457.33L1156.2 459.63ZM1155.87 460.63L1158.68 465.52L1160.7 464.05L1156.93 459.87ZM1155.87 459.87L1152.1 464.05L1154.12 465.52L1156.93 460.63ZM1156.6 459.63L1151.46 457.33L1150.69 459.71L1156.2 460.87Z" fill="#000"/>
<path d="M1185.95 462L1186.55 456.4L1184.05 456.4L1184.65 462ZM1185.5 462.62L1191.01 461.46L1190.24 459.08L1185.1 461.38ZM1184.77 462.38L1187.58 467.27L1189.6 465.8L1185.83 461.62ZM1184.77 461.62L1181 465.8L1183.02 467.27L1185.83 462.38ZM1185.5 461.38L1180.36 459.08L1179.59 461.46L1185.1 462.62Z" fill="#000"/>
<path d="M1214.85 449.6L1215.45 444L1212.95 444L1213.55 449.6ZM1214.4 450.22L1219.91 449.06L1219.14 446.68L1214 448.98ZM1213.67 449.98L1216.48 454.87L1218.5 453.4L1214.73 449.22ZM1213.67 449.22L1209.9 453.4L1211.92 454.87L1214.73 449.98ZM1214.4 448.98L1209.26 446.68L1208.49 449.06L1214 450.22Z" fill="#000"/>
<path d="M1243.65 444.55L1244.25 438.95L1241.75 438.95L1242.35 444.55ZM1243.2 445.17L1248.71 444.01L1247.94 441.63L1242.8 443.93ZM1242.47 444.93L1245.28 449.82L1247.3 448.35L1243.53 444.17ZM1242.47 444.17L1238.7 448.35L1240.72 449.82L1243.53 444.93ZM1243.2 443.93L1238.06 441.63L1237.29 444.01L1242.8 445.17Z" fill="#000"/>
<path d="M1272.55 460.7L1273.15 455.1L1270.65 455.1L1271.25 460.7ZM1272.1 461.32L1277.61 460.16L1276.84 457.78L1271.7 460.08ZM1271.37 461.08L1274.18 465.97L1276.2 464.5L1272.43 460.32ZM1271.37 460.32L1267.6 464.5L1269.62 465.97L1272.43 461.08ZM1272.1 460.08L1266.96 457.78L1266.19 460.16L1271.7 461.32Z" fill="#000"/>
<path d="M1301.35 473.1L1301.95 467.5L1299.45 467.5L1300.05 473.1ZM1300.9 473.72L1306.41 472.56L1305.64 470.18L1300.5 472.48ZM1300.17 473.48L1302.98 478.37L1305 476.9L1301.23 472.72ZM1300.17 472.72L1296.4 476.9L1298.42 478.37L1301.23 473.48ZM1300.9 472.48L1295.76 470.18L1294.99 472.56L1300.5 473.72Z" fill="#000"/>
<path d="M1330.25 466.9L1330.85 461.3L1328.35 461.3L1328.95 466.9ZM1329.8 467.52L1335.31 466.36L1334.54 463.98L1329.4 466.28ZM1329.07 467.28L1331.88 472.17L1333.9 470.7L1330.13 466.52ZM1329.07 466.52L1325.3 470.7L1327.32 472.17L1330.13 467.28ZM1329.8 466.28L1324.66 463.98L1323.89 466.36L1329.4 467.52Z" fill="#000"/>
<path d="M197.25 927.7L197.85 922.1L195.35 922.1L195.95 927.7ZM196.8 928.32L202.31 927.16L201.54 924.78L196.4 927.08ZM196.07 928.08L198.88 932.97L200.9 931.5L197.13 927.32ZM196.07 927.32L192.3 931.5L194.32 932.97L197.13 928.08ZM196.8 927.08L191.66 924.78L190.89 927.16L196.4 928.32Z" fill="#000"/>
<path d="M210.3 917L206.9 934.8M216.1 917L212.5 934.8M205 922.9H218.1M205 929.05H218.1" stroke="#000" stroke-width="1.8" fill="none"/>
<path d="M226.05 933.9L226.65 928.3L224.15 928.3L224.75 933.9ZM225.6 934.52L231.11 933.36L230.34 930.98L225.2 933.28ZM224.87 934.28L227.68 939.17L229.7 937.7L225.93 933.52ZM224.87 933.52L221.1 937.7L223.12 939.17L225.93 934.28ZM225.6 933.28L220.46 930.98L219.69 933.36L225.2 934.52Z" fill="#000"/>
<path d="M239.1 922.4L235.7 941M244.9 922.4L241.3 941M233.8 928.57H246.9M233.8 934.99H246.9" stroke="#000" stroke-width="1.8" fill="none"/>
<path d="M254.95 933.9L255.55 928.3L253.05 928.3L253.65 933.9ZM254.5 934.52L260.01 933.36L259.24 930.98L254.1 933.28ZM253.77 934.28L256.58 939.17L258.6 937.7L254.83 933.52ZM253.77 933.52L250 937.7L252.02 939.17L254.83 934.28ZM254.5 933.28L249.36 930.98L248.59 933.36L254.1 934.52Z" fill="#000"/>
<path d="M268 922.4L264.6 941M273.8 922.4L270.2 941M262.7 928.57H275.8M262.7 934.99H275.8" stroke="#000" stroke-width="1.8" fill="none"/>
<path d="M318.35 927.4L314.95 945.4M324.15 927.4L320.55 945.4M313.05 933.37H326.15M313.05 939.59H326.15" stroke="#000" stroke-width="1.8" fill="none"/>
<path d="M417.25 975.5L417.85 969.9L415.35 969.9L415.95 975.5ZM416.8 976.12L422.31 974.96L421.54 972.58L416.4 974.88ZM416.07 975.88L418.88 980.77L420.9 979.3L417.13 975.12ZM416.07 975.12L412.3 979.3L414.32 980.77L417.13 975.88ZM416.8 974.88L411.66 972.58L410.89 974.96L416.4 976.12Z" fill="#000"/>
<path d="M446.15 965.8L446.75 960.2L444.25 960.2L444.85 965.8ZM445.7 966.42L451.21 965.26L450.44 962.88L445.3 965.18ZM444.97 966.18L447.78 971.07L449.8 969.6L446.03 965.42ZM444.97 965.42L441.2 969.6L443.22 971.07L446.03 966.18ZM445.7 965.18L440.56 962.88L439.79 965.26L445.3 966.42Z" fill="#000"/>
<path d="M473.05 951.5L469.65 969.6M478.85 951.5L475.25 969.6M467.75 957.5H480.85M467.75 963.75H480.85" stroke="#000" stroke-width="1.8" fill="none"/>
<path d="M501.95 939.5L498.55 957.2M507.75 939.5L504.15 957.2M496.65 945.37H509.75M496.65 951.48H509.75" stroke="#000" stroke-width="1.8" fill="none"/>
<path d="M530.75 920.9L527.35 935.9M536.55 920.9L532.95 935.9M525.45 925.87H538.55M525.45 931.05H538.55" stroke="#000" stroke-width="1.8" fill="none"/>
<path d="M553.95 983.7L554.55 978.1L552.05 978.1L552.65 983.7ZM553.5 984.32L559.01 983.16L558.24 980.78L553.1 983.08ZM552.77 984.08L555.58 988.97L557.6 987.5L553.83 983.32ZM552.77 983.32L549 987.5L551.02 988.97L553.83 984.08ZM553.5 983.08L548.36 980.78L547.59 983.16L553.1 984.32Z" fill="#000"/>
<path d="M567 972.8L563.6 990.8M572.8 972.8L569.2 990.8M561.7 978.77H574.8M561.7 984.99H574.8" stroke="#000" stroke-width="1.8" fill="none"/>
<path d="M887.65 894.1L888.25 888.5L885.75 888.5L886.35 894.1ZM887.2 894.72L892.71 893.56L891.94 891.18L886.8 893.48ZM886.47 894.48L889.28 899.37L891.3 897.9L887.53 893.72ZM886.47 893.72L882.7 897.9L884.72 899.37L887.53 894.48ZM887.2 893.48L882.06 891.18L881.29 893.56L886.8 894.72Z" fill="#000"/>
<path d="M916.45 902.95L917.05 897.35L914.55 897.35L915.15 902.95ZM916 903.57L921.51 902.41L920.74 900.03L915.6 902.33ZM915.27 903.33L918.08 908.22L920.1 906.75L916.33 902.57ZM915.27 902.57L911.5 906.75L913.52 908.22L916.33 903.33ZM916 902.33L910.86 900.03L910.09 902.41L915.6 903.57Z" fill="#000"/>
<path d="M945.25 897.6L945.85 892L943.35 892L943.95 897.6ZM944.8 898.22L950.31 897.06L949.54 894.68L944.4 896.98ZM944.07 897.98L946.88 902.87L948.9 901.4L945.13 897.22ZM944.07 897.22L940.3 901.4L942.32 902.87L945.13 897.98ZM944.8 896.98L939.66 894.68L938.89 897.06L944.4 898.22Z" fill="#000"/>
<path d="M966.45 827.9L967.05 822.3L964.55 822.3L965.15 827.9ZM966 828.52L971.51 827.36L970.74 824.98L965.6 827.28ZM965.27 828.28L968.08 833.17L970.1 831.7L966.33 827.52ZM965.27 827.52L961.5 831.7L963.52 833.17L966.33 828.28ZM966 827.28L960.86 824.98L960.09 827.36L965.6 828.52Z" fill="#000"/>
<path d="M979.5 821.8L976.1 835M985.3 821.8L981.7 835M974.2 826.18H987.3M974.2 830.74H987.3" stroke="#000" stroke-width="1.8" fill="none"/>
<path d="M995.35 837.7L995.95 832.1L993.45 832.1L994.05 837.7ZM994.9 838.32L1000.41 837.16L999.64 834.78L994.5 837.08ZM994.17 838.08L996.98 842.97L999 841.5L995.23 837.32ZM994.17 837.32L990.4 841.5L992.42 842.97L995.23 838.08ZM994.9 837.08L989.76 834.78L988.99 837.16L994.5 838.32Z" fill="#000"/>
<path d="M1008.4 827L1005 844.8M1014.2 827L1010.6 844.8M1003.1 832.9H1016.2M1003.1 839.05H1016.2" stroke="#000" stroke-width="1.8" fill="none"/>
<path d="M1031.75 876.85L1032.35 871.25L1029.85 871.25L1030.45 876.85ZM1031.3 877.47L1036.81 876.31L1036.04 873.93L1030.9 876.23ZM1030.57 877.23L1033.38 882.12L1035.4 880.65L1031.63 876.47ZM1030.57 876.47L1026.8 880.65L1028.82 882.12L1031.63 877.23ZM1031.3 876.23L1026.16 873.93L1025.39 876.31L1030.9 877.47Z" fill="#000"/>
<path d="M1053.05 865.1L1053.65 859.5L1051.15 859.5L1051.75 865.1ZM1052.6 865.72L1058.11 864.56L1057.34 862.18L1052.2 864.48ZM1051.87 865.48L1054.68 870.37L1056.7 868.9L1052.93 864.72ZM1051.87 864.72L1048.1 868.9L1050.12 870.37L1052.93 865.48ZM1052.6 864.48L1047.46 862.18L1046.69 864.56L1052.2 865.72Z" fill="#000"/>
<path d="M1066.1 853.7L1062.7 872.2M1071.9 853.7L1068.3 872.2M1060.8 859.83H1073.9M1060.8 866.22H1073.9" stroke="#000" stroke-width="1.8" fill="none"/>
<path d="M1158.15 886.55L1158.75 880.95L1156.25 880.95L1156.85 886.55ZM1157.7 887.17L1163.21 886.01L1162.44 883.63L1157.3 885.93ZM1156.97 886.93L1159.78 891.82L1161.8 890.35L1158.03 886.17ZM1156.97 886.17L1153.2 890.35L1155.22 891.82L1158.03 886.93ZM1157.7 885.93L1152.56 883.63L1151.79 886.01L1157.3 887.17Z" fill="#000"/>
<path d="M1187.05 842.3L1187.65 836.7L1185.15 836.7L1185.75 842.3ZM1186.6 842.92L1192.11 841.76L1191.34 839.38L1186.2 841.68ZM1185.87 842.68L1188.68 847.57L1190.7 846.1L1186.93 841.92ZM1185.87 841.92L1182.1 846.1L1184.12 847.57L1186.93 842.68ZM1186.6 841.68L1181.46 839.38L1180.69 841.76L1186.2 842.92Z" fill="#000"/>
<path d="M1208.25 861.6L1208.85 856L1206.35 856L1206.95 861.6ZM1207.8 862.22L1213.31 861.06L1212.54 858.68L1207.4 860.98ZM1207.07 861.98L1209.88 866.87L1211.9 865.4L1208.13 861.22ZM1207.07 861.22L1203.3 865.4L1205.32 866.87L1208.13 861.98ZM1207.8 860.98L1202.66 858.68L1201.89 861.06L1207.4 862.22Z" fill="#000"/>
<path d="M1221.3 851L1217.9 868.7M1227.1 851L1223.5 868.7M1216 856.87H1229.1M1216 862.98H1229.1" stroke="#000" stroke-width="1.8" fill="none"/>
<path d="M1244.75 877.7L1245.35 872.1L1242.85 872.1L1243.45 877.7ZM1244.3 878.32L1249.81 877.16L1249.04 874.78L1243.9 877.08ZM1243.57 878.08L1246.38 882.97L1248.4 881.5L1244.63 877.32ZM1243.57 877.32L1239.8 881.5L1241.82 882.97L1244.63 878.08ZM1244.3 877.08L1239.16 874.78L1238.39 877.16L1243.9 878.32Z" fill="#000"/>
<path d="M1273.65 852.05L1274.25 846.45L1271.75 846.45L1272.35 852.05ZM1273.2 852.67L1278.71 851.51L1277.94 849.13L1272.8 851.43ZM1272.47 852.43L1275.28 857.32L1277.3 855.85L1273.53 851.67ZM1272.47 851.67L1268.7 855.85L1270.72 857.32L1273.53 852.43ZM1273.2 851.43L1268.06 849.13L1267.29 851.51L1272.8 852.67Z" fill="#000"/>
<path d="M1302.55 842.3L1303.15 836.7L1300.65 836.7L1301.25 842.3ZM1302.1 842.92L1307.61 841.76L1306.84 839.38L1301.7 841.68ZM1301.37 842.68L1304.18 847.57L1306.2 846.1L1302.43 841.92ZM1301.37 841.92L1297.6 846.1L1299.62 847.57L1302.43 842.68ZM1302.1 841.68L1296.96 839.38L1296.19 841.76L1301.7 842.92Z" fill="#000"/>
<path d="M1331.45 875.95L1332.05 870.35L1329.55 870.35L1330.15 875.95ZM1331 876.57L1336.51 875.41L1335.74 873.03L1330.6 875.33ZM1330.27 876.33L1333.08 881.22L1335.1 879.75L1331.33 875.57ZM1330.27 875.57L1326.5 879.75L1328.52 881.22L1331.33 876.33ZM1331 875.33L1325.86 873.03L1325.09 875.41L1330.6 876.57Z" fill="#000"/>
<rect x="385.55" y="1274.45" width="36.7" height="16.6" fill="#fff" stroke="#000" stroke-width="3.5"/>
<text transform="translate(446.8,1293.4) scale(1,1.0339)" font-size="31.82">control</text>
<rect x="385.55" y="1309.75" width="36.7" height="16.4" fill="#fff" stroke="#000" stroke-width="3.5"/>
<rect x="392.9" y="1317.2" width="2.2" height="2.2" fill="#000"/>
<rect x="400.5" y="1317.2" width="2.2" height="2.2" fill="#000"/>
<rect x="408.2" y="1317.2" width="2.2" height="2.2" fill="#000"/>
<rect x="415.8" y="1317.2" width="2.2" height="2.2" fill="#000"/>
<text transform="translate(446.8,1328.5) scale(1,1.0339)" font-size="31.82">IR</text>
<rect x="385.55" y="1346.45" width="36.7" height="16.6" fill="url(#L2)" stroke="#000" stroke-width="3.5"/>
<text transform="translate(446.8,1365.4) scale(1,1.0339)" font-size="31.82">IR + 1 dose of IGF-1 (1 h)</text>
<rect x="385.55" y="1384.35" width="36.7" height="16.4" fill="url(#L3)" stroke="#000" stroke-width="3.5"/>
<text transform="translate(446.8,1403.1) scale(1,1.0339)" font-size="31.82">IR + 2 doses of IGF-1 (1, 24 h)</text>
<rect x="385.55" y="1421.65" width="36.7" height="16.4" fill="url(#L4)" stroke="#000" stroke-width="3.5"/>
<text transform="translate(446.8,1440.4) scale(1,1.0339)" font-size="31.82">IR + 3 doses of IGF-1 (1, 24, 48 h)</text>
<rect x="385.55" y="1459.05" width="36.7" height="16.4" fill="url(#L5)" stroke="#000" stroke-width="3.5"/>
<text transform="translate(446.8,1477.8) scale(1,1.0339)" font-size="31.82">IR + 4 doses of IGF-1 (1, 24, 48, 72 h)</text>
<rect x="385.55" y="1496.25" width="36.7" height="16.5" fill="url(#L6)" stroke="#000" stroke-width="3.5"/>
<text transform="translate(446.8,1515.1) scale(1,1.0339)" font-size="31.82">IR + 5 doses of IGF-1 (1, 24, 48, 72, 96 h)</text>
<rect x="385.55" y="1533.65" width="36.7" height="16.6" fill="url(#L7)" stroke="#000" stroke-width="3.5"/>
<text transform="translate(446.8,1552.6) scale(1,1.0339)" font-size="31.82">IR + 3 doses of IGF-1 (24, 48, 72 h)</text>
<defs><pattern id="q0" patternTransform="translate(139.65,365.1)" patternUnits="userSpaceOnUse" x="-2" y="-2" width="6.9" height="13.7"><rect width="6.9" height="13.7" fill="#fff"/><rect x="4.75" y="1.2" width="2" height="2" fill="#000"/><rect x="-2.6" y="1.2" width="2" height="2" fill="#000"/><rect x="1.3" y="8.05" width="2" height="2" fill="#000"/><rect x="8.2" y="8.05" width="2" height="2" fill="#000"/></pattern><pattern id="q1" patternTransform="translate(168.55,369.3)" patternUnits="userSpaceOnUse" width="6.9" height="6.9"><rect width="6.9" height="6.9" fill="#fff"/><rect x="3.45" y="0" width="3.45" height="3.45" fill="#000"/><rect x="0" y="3.45" width="3.45" height="3.45" fill="#000"/></pattern><pattern id="q2" patternTransform="translate(197.35,368.9)" patternUnits="userSpaceOnUse" width="13.7" height="13.7"><rect width="13.7" height="13.7" fill="#fff"/><rect x="6.85" y="0" width="6.85" height="6.85" fill="#000"/><rect x="0" y="6.85" width="6.85" height="6.85" fill="#000"/></pattern><pattern id="q3" patternTransform="translate(226.25,375.3)" patternUnits="userSpaceOnUse" width="8.5" height="8.5"><rect width="8.5" height="8.5" fill="#fff"/><path d="M-2 0.6L0.6 -2M-2 9.1L9.1 -2M-2 17.6L17.6 -2" stroke="#000" stroke-width="1.6"/></pattern><pattern id="q4" patternTransform="translate(255.15,342.8)" patternUnits="userSpaceOnUse" width="8.4" height="8.4"><rect width="8.4" height="8.4" fill="#fff"/><path d="M-2 -12.7L10.4 -0.3M-2 -4.3L10.4 8.1M-2 4.1L10.4 16.5" stroke="#000" stroke-width="1.6"/></pattern><pattern id="q5" patternTransform="translate(283.95,375.4)" patternUnits="userSpaceOnUse" width="10.2" height="10.2"><rect width="10.2" height="10.2" fill="#fff"/><path d="M0 9.1H10.2M9.1 0V10.2" stroke="#000" stroke-width="1.6"/></pattern><pattern id="q6" patternTransform="translate(312.85,369.6)" patternUnits="userSpaceOnUse" width="8.2" height="8.2"><rect width="8.2" height="8.2" fill="#fff"/><path d="M-2 0.7L0.7 -2M-2 8.9L8.9 -2M-2 17.1L17.1 -2M-0.05 -1.25L4.05 2.85M-0.05 6.95L4.05 11.05M8.15 -1.25L12.25 2.85M8.15 6.95L12.25 11.05" stroke="#000" stroke-width="1.6"/></pattern><pattern id="q7" patternTransform="translate(408.85,422.5)" patternUnits="userSpaceOnUse" x="-2" y="-2" width="6.9" height="13.7"><rect width="6.9" height="13.7" fill="#fff"/><rect x="4.75" y="1.2" width="2" height="2" fill="#000"/><rect x="-2.6" y="1.2" width="2" height="2" fill="#000"/><rect x="1.3" y="8.05" width="2" height="2" fill="#000"/><rect x="8.2" y="8.05" width="2" height="2" fill="#000"/></pattern><pattern id="q8" patternTransform="translate(437.65,431.3)" patternUnits="userSpaceOnUse" width="6.9" height="6.9"><rect width="6.9" height="6.9" fill="#fff"/><rect x="3.45" y="0" width="3.45" height="3.45" fill="#000"/><rect x="0" y="3.45" width="3.45" height="3.45" fill="#000"/></pattern><pattern id="q9" patternTransform="translate(466.55,399.6)" patternUnits="userSpaceOnUse" width="13.7" height="13.7"><rect width="13.7" height="13.7" fill="#fff"/><rect x="6.85" y="0" width="6.85" height="6.85" fill="#000"/><rect x="0" y="6.85" width="6.85" height="6.85" fill="#000"/></pattern><pattern id="q10" patternTransform="translate(495.45,416.2)" patternUnits="userSpaceOnUse" width="8.5" height="8.5"><rect width="8.5" height="8.5" fill="#fff"/><path d="M-2 0.6L0.6 -2M-2 9.1L9.1 -2M-2 17.6L17.6 -2" stroke="#000" stroke-width="1.6"/></pattern><pattern id="q11" patternTransform="translate(524.25,420.6)" patternUnits="userSpaceOnUse" width="8.4" height="8.4"><rect width="8.4" height="8.4" fill="#fff"/><path d="M-2 -12.7L10.4 -0.3M-2 -4.3L10.4 8.1M-2 4.1L10.4 16.5" stroke="#000" stroke-width="1.6"/></pattern><pattern id="q12" patternTransform="translate(553.15,444.2)" patternUnits="userSpaceOnUse" width="10.2" height="10.2"><rect width="10.2" height="10.2" fill="#fff"/><path d="M0 9.1H10.2M9.1 0V10.2" stroke="#000" stroke-width="1.6"/></pattern><pattern id="q13" patternTransform="translate(582.05,459.6)" patternUnits="userSpaceOnUse" width="8.2" height="8.2"><rect width="8.2" height="8.2" fill="#fff"/><path d="M-2 0.7L0.7 -2M-2 8.9L8.9 -2M-2 17.1L17.1 -2M-0.05 -1.25L4.05 2.85M-0.05 6.95L4.05 11.05M8.15 -1.25L12.25 2.85M8.15 6.95L12.25 11.05" stroke="#000" stroke-width="1.6"/></pattern><pattern id="q14" patternTransform="translate(878.15,463.2)" patternUnits="userSpaceOnUse" x="-2" y="-2" width="6.9" height="13.7"><rect width="6.9" height="13.7" fill="#fff"/><rect x="4.75" y="1.2" width="2" height="2" fill="#000"/><rect x="-2.6" y="1.2" width="2" height="2" fill="#000"/><rect x="1.3" y="8.05" width="2" height="2" fill="#000"/><rect x="8.2" y="8.05" width="2" height="2" fill="#000"/></pattern><pattern id="q15" patternTransform="translate(907.05,455.3)" patternUnits="userSpaceOnUse" width="6.9" height="6.9"><rect width="6.9" height="6.9" fill="#fff"/><rect x="3.45" y="0" width="3.45" height="3.45" fill="#000"/><rect x="0" y="3.45" width="3.45" height="3.45" fill="#000"/></pattern><pattern id="q16" patternTransform="translate(935.85,456.5)" patternUnits="userSpaceOnUse" width="13.7" height="13.7"><rect width="13.7" height="13.7" fill="#fff"/><rect x="6.85" y="0" width="6.85" height="6.85" fill="#000"/><rect x="0" y="6.85" width="6.85" height="6.85" fill="#000"/></pattern><pattern id="q17" patternTransform="translate(964.75,453.3)" patternUnits="userSpaceOnUse" width="8.5" height="8.5"><rect width="8.5" height="8.5" fill="#fff"/><path d="M-2 0.6L0.6 -2M-2 9.1L9.1 -2M-2 17.6L17.6 -2" stroke="#000" stroke-width="1.6"/></pattern><pattern id="q18" patternTransform="translate(993.55,439.7)" patternUnits="userSpaceOnUse" width="8.4" height="8.4"><rect width="8.4" height="8.4" fill="#fff"/><path d="M-2 -12.7L10.4 -0.3M-2 -4.3L10.4 8.1M-2 4.1L10.4 16.5" stroke="#000" stroke-width="1.6"/></pattern><pattern id="q19" patternTransform="translate(1022.45,451.7)" patternUnits="userSpaceOnUse" width="10.2" height="10.2"><rect width="10.2" height="10.2" fill="#fff"/><path d="M0 9.1H10.2M9.1 0V10.2" stroke="#000" stroke-width="1.6"/></pattern><pattern id="q20" patternTransform="translate(1051.35,429)" patternUnits="userSpaceOnUse" width="8.2" height="8.2"><rect width="8.2" height="8.2" fill="#fff"/><path d="M-2 0.7L0.7 -2M-2 8.9L8.9 -2M-2 17.1L17.1 -2M-0.05 -1.25L4.05 2.85M-0.05 6.95L4.05 11.05M8.15 -1.25L12.25 2.85M8.15 6.95L12.25 11.05" stroke="#000" stroke-width="1.6"/></pattern><pattern id="q21" patternTransform="translate(1147.15,491.5)" patternUnits="userSpaceOnUse" x="-2" y="-2" width="6.9" height="13.7"><rect width="6.9" height="13.7" fill="#fff"/><rect x="4.75" y="1.2" width="2" height="2" fill="#000"/><rect x="-2.6" y="1.2" width="2" height="2" fill="#000"/><rect x="1.3" y="8.05" width="2" height="2" fill="#000"/><rect x="8.2" y="8.05" width="2" height="2" fill="#000"/></pattern><pattern id="q22" patternTransform="translate(1176.05,492.1)" patternUnits="userSpaceOnUse" width="6.9" height="6.9"><rect width="6.9" height="6.9" fill="#fff"/><rect x="3.45" y="0" width="3.45" height="3.45" fill="#000"/><rect x="0" y="3.45" width="3.45" height="3.45" fill="#000"/></pattern><pattern id="q23" patternTransform="translate(1204.95,475.6)" patternUnits="userSpaceOnUse" width="13.7" height="13.7"><rect width="13.7" height="13.7" fill="#fff"/><rect x="6.85" y="0" width="6.85" height="6.85" fill="#000"/><rect x="0" y="6.85" width="6.85" height="6.85" fill="#000"/></pattern><pattern id="q24" patternTransform="translate(1233.75,479.1)" patternUnits="userSpaceOnUse" width="8.5" height="8.5"><rect width="8.5" height="8.5" fill="#fff"/><path d="M-2 0.6L0.6 -2M-2 9.1L9.1 -2M-2 17.6L17.6 -2" stroke="#000" stroke-width="1.6"/></pattern><pattern id="q25" patternTransform="translate(1262.65,495.1)" patternUnits="userSpaceOnUse" width="8.4" height="8.4"><rect width="8.4" height="8.4" fill="#fff"/><path d="M-2 -12.7L10.4 -0.3M-2 -4.3L10.4 8.1M-2 4.1L10.4 16.5" stroke="#000" stroke-width="1.6"/></pattern><pattern id="q26" patternTransform="translate(1291.45,502.2)" patternUnits="userSpaceOnUse" width="10.2" height="10.2"><rect width="10.2" height="10.2" fill="#fff"/><path d="M0 9.1H10.2M9.1 0V10.2" stroke="#000" stroke-width="1.6"/></pattern><pattern id="q27" patternTransform="translate(1320.35,488.9)" patternUnits="userSpaceOnUse" width="8.2" height="8.2"><rect width="8.2" height="8.2" fill="#fff"/><path d="M-2 0.7L0.7 -2M-2 8.9L8.9 -2M-2 17.1L17.1 -2M-0.05 -1.25L4.05 2.85M-0.05 6.95L4.05 11.05M8.15 -1.25L12.25 2.85M8.15 6.95L12.25 11.05" stroke="#000" stroke-width="1.6"/></pattern><pattern id="q28" patternTransform="translate(137.25,983.5)" patternUnits="userSpaceOnUse" x="-2" y="-2" width="6.9" height="13.7"><rect width="6.9" height="13.7" fill="#fff"/><rect x="4.75" y="1.2" width="2" height="2" fill="#000"/><rect x="-2.6" y="1.2" width="2" height="2" fill="#000"/><rect x="1.3" y="8.05" width="2" height="2" fill="#000"/><rect x="8.2" y="8.05" width="2" height="2" fill="#000"/></pattern><pattern id="q29" patternTransform="translate(166.05,975.9)" patternUnits="userSpaceOnUse" width="6.9" height="6.9"><rect width="6.9" height="6.9" fill="#fff"/><rect x="3.45" y="0" width="3.45" height="3.45" fill="#000"/><rect x="0" y="3.45" width="3.45" height="3.45" fill="#000"/></pattern><pattern id="q30" patternTransform="translate(194.95,947.2)" patternUnits="userSpaceOnUse" width="13.7" height="13.7"><rect width="13.7" height="13.7" fill="#fff"/><rect x="6.85" y="0" width="6.85" height="6.85" fill="#000"/><rect x="0" y="6.85" width="6.85" height="6.85" fill="#000"/></pattern><pattern id="q31" patternTransform="translate(223.75,950.4)" patternUnits="userSpaceOnUse" width="8.5" height="8.5"><rect width="8.5" height="8.5" fill="#fff"/><path d="M-2 0.6L0.6 -2M-2 9.1L9.1 -2M-2 17.6L17.6 -2" stroke="#000" stroke-width="1.6"/></pattern><pattern id="q32" patternTransform="translate(252.65,950.4)" patternUnits="userSpaceOnUse" width="8.4" height="8.4"><rect width="8.4" height="8.4" fill="#fff"/><path d="M-2 -12.7L10.4 -0.3M-2 -4.3L10.4 8.1M-2 4.1L10.4 16.5" stroke="#000" stroke-width="1.6"/></pattern><pattern id="q33" patternTransform="translate(281.45,947.2)" patternUnits="userSpaceOnUse" width="10.2" height="10.2"><rect width="10.2" height="10.2" fill="#fff"/><path d="M0 9.1H10.2M9.1 0V10.2" stroke="#000" stroke-width="1.6"/></pattern><pattern id="q34" patternTransform="translate(310.35,954.8)" patternUnits="userSpaceOnUse" width="8.2" height="8.2"><rect width="8.2" height="8.2" fill="#fff"/><path d="M-2 0.7L0.7 -2M-2 8.9L8.9 -2M-2 17.1L17.1 -2M-0.05 -1.25L4.05 2.85M-0.05 6.95L4.05 11.05M8.15 -1.25L12.25 2.85M8.15 6.95L12.25 11.05" stroke="#000" stroke-width="1.6"/></pattern><pattern id="q35" patternTransform="translate(407.35,994.7)" patternUnits="userSpaceOnUse" x="-2" y="-2" width="6.9" height="13.7"><rect width="6.9" height="13.7" fill="#fff"/><rect x="4.75" y="1.2" width="2" height="2" fill="#000"/><rect x="-2.6" y="1.2" width="2" height="2" fill="#000"/><rect x="1.3" y="8.05" width="2" height="2" fill="#000"/><rect x="8.2" y="8.05" width="2" height="2" fill="#000"/></pattern><pattern id="q36" patternTransform="translate(436.25,984.1)" patternUnits="userSpaceOnUse" width="6.9" height="6.9"><rect width="6.9" height="6.9" fill="#fff"/><rect x="3.45" y="0" width="3.45" height="3.45" fill="#000"/><rect x="0" y="3.45" width="3.45" height="3.45" fill="#000"/></pattern><pattern id="q37" patternTransform="translate(465.05,979.3)" patternUnits="userSpaceOnUse" width="13.7" height="13.7"><rect width="13.7" height="13.7" fill="#fff"/><rect x="6.85" y="0" width="6.85" height="6.85" fill="#000"/><rect x="0" y="6.85" width="6.85" height="6.85" fill="#000"/></pattern><pattern id="q38" patternTransform="translate(493.95,973.5)" patternUnits="userSpaceOnUse" width="8.5" height="8.5"><rect width="8.5" height="8.5" fill="#fff"/><path d="M-2 0.6L0.6 -2M-2 9.1L9.1 -2M-2 17.6L17.6 -2" stroke="#000" stroke-width="1.6"/></pattern><pattern id="q39" patternTransform="translate(522.75,965.5)" patternUnits="userSpaceOnUse" width="8.4" height="8.4"><rect width="8.4" height="8.4" fill="#fff"/><path d="M-2 -12.7L10.4 -0.3M-2 -4.3L10.4 8.1M-2 4.1L10.4 16.5" stroke="#000" stroke-width="1.6"/></pattern><pattern id="q40" patternTransform="translate(551.65,1008.6)" patternUnits="userSpaceOnUse" width="10.2" height="10.2"><rect width="10.2" height="10.2" fill="#fff"/><path d="M0 9.1H10.2M9.1 0V10.2" stroke="#000" stroke-width="1.6"/></pattern><pattern id="q41" patternTransform="translate(580.55,964.3)" patternUnits="userSpaceOnUse" width="8.2" height="8.2"><rect width="8.2" height="8.2" fill="#fff"/><path d="M-2 0.7L0.7 -2M-2 8.9L8.9 -2M-2 17.1L17.1 -2M-0.05 -1.25L4.05 2.85M-0.05 6.95L4.05 11.05M8.15 -1.25L12.25 2.85M8.15 6.95L12.25 11.05" stroke="#000" stroke-width="1.6"/></pattern><pattern id="q42" patternTransform="translate(877.75,921.5)" patternUnits="userSpaceOnUse" x="-2" y="-2" width="6.9" height="13.7"><rect width="6.9" height="13.7" fill="#fff"/><rect x="4.75" y="1.2" width="2" height="2" fill="#000"/><rect x="-2.6" y="1.2" width="2" height="2" fill="#000"/><rect x="1.3" y="8.05" width="2" height="2" fill="#000"/><rect x="8.2" y="8.05" width="2" height="2" fill="#000"/></pattern><pattern id="q43" patternTransform="translate(906.55,930.2)" patternUnits="userSpaceOnUse" width="6.9" height="6.9"><rect width="6.9" height="6.9" fill="#fff"/><rect x="3.45" y="0" width="3.45" height="3.45" fill="#000"/><rect x="0" y="3.45" width="3.45" height="3.45" fill="#000"/></pattern><pattern id="q44" patternTransform="translate(935.35,917.9)" patternUnits="userSpaceOnUse" width="13.7" height="13.7"><rect width="13.7" height="13.7" fill="#fff"/><rect x="6.85" y="0" width="6.85" height="6.85" fill="#000"/><rect x="0" y="6.85" width="6.85" height="6.85" fill="#000"/></pattern><pattern id="q45" patternTransform="translate(964.15,881.6)" patternUnits="userSpaceOnUse" width="8.5" height="8.5"><rect width="8.5" height="8.5" fill="#fff"/><path d="M-2 0.6L0.6 -2M-2 9.1L9.1 -2M-2 17.6L17.6 -2" stroke="#000" stroke-width="1.6"/></pattern><pattern id="q46" patternTransform="translate(993.05,856.3)" patternUnits="userSpaceOnUse" width="8.4" height="8.4"><rect width="8.4" height="8.4" fill="#fff"/><path d="M-2 -12.7L10.4 -0.3M-2 -4.3L10.4 8.1M-2 4.1L10.4 16.5" stroke="#000" stroke-width="1.6"/></pattern><pattern id="q47" patternTransform="translate(1021.85,893.1)" patternUnits="userSpaceOnUse" width="10.2" height="10.2"><rect width="10.2" height="10.2" fill="#fff"/><path d="M0 9.1H10.2M9.1 0V10.2" stroke="#000" stroke-width="1.6"/></pattern><pattern id="q48" patternTransform="translate(1050.75,885.2)" patternUnits="userSpaceOnUse" width="8.2" height="8.2"><rect width="8.2" height="8.2" fill="#fff"/><path d="M-2 0.7L0.7 -2M-2 8.9L8.9 -2M-2 17.1L17.1 -2M-0.05 -1.25L4.05 2.85M-0.05 6.95L4.05 11.05M8.15 -1.25L12.25 2.85M8.15 6.95L12.25 11.05" stroke="#000" stroke-width="1.6"/></pattern><pattern id="q49" patternTransform="translate(1148.25,905)" patternUnits="userSpaceOnUse" x="-2" y="-2" width="6.9" height="13.7"><rect width="6.9" height="13.7" fill="#fff"/><rect x="4.75" y="1.2" width="2" height="2" fill="#000"/><rect x="-2.6" y="1.2" width="2" height="2" fill="#000"/><rect x="1.3" y="8.05" width="2" height="2" fill="#000"/><rect x="8.2" y="8.05" width="2" height="2" fill="#000"/></pattern><pattern id="q50" patternTransform="translate(1177.15,870.5)" patternUnits="userSpaceOnUse" width="6.9" height="6.9"><rect width="6.9" height="6.9" fill="#fff"/><rect x="3.45" y="0" width="3.45" height="3.45" fill="#000"/><rect x="0" y="3.45" width="3.45" height="3.45" fill="#000"/></pattern><pattern id="q51" patternTransform="translate(1205.95,877.9)" patternUnits="userSpaceOnUse" width="13.7" height="13.7"><rect width="13.7" height="13.7" fill="#fff"/><rect x="6.85" y="0" width="6.85" height="6.85" fill="#000"/><rect x="0" y="6.85" width="6.85" height="6.85" fill="#000"/></pattern><pattern id="q52" patternTransform="translate(1234.85,906.8)" patternUnits="userSpaceOnUse" width="8.5" height="8.5"><rect width="8.5" height="8.5" fill="#fff"/><path d="M-2 0.6L0.6 -2M-2 9.1L9.1 -2M-2 17.6L17.6 -2" stroke="#000" stroke-width="1.6"/></pattern><pattern id="q53" patternTransform="translate(1263.75,881.1)" patternUnits="userSpaceOnUse" width="8.4" height="8.4"><rect width="8.4" height="8.4" fill="#fff"/><path d="M-2 -12.7L10.4 -0.3M-2 -4.3L10.4 8.1M-2 4.1L10.4 16.5" stroke="#000" stroke-width="1.6"/></pattern><pattern id="q54" patternTransform="translate(1292.65,877.2)" patternUnits="userSpaceOnUse" width="10.2" height="10.2"><rect width="10.2" height="10.2" fill="#fff"/><path d="M0 9.1H10.2M9.1 0V10.2" stroke="#000" stroke-width="1.6"/></pattern><pattern id="q55" patternTransform="translate(1321.55,896.2)" patternUnits="userSpaceOnUse" width="8.2" height="8.2"><rect width="8.2" height="8.2" fill="#fff"/><path d="M-2 0.7L0.7 -2M-2 8.9L8.9 -2M-2 17.1L17.1 -2M-0.05 -1.25L4.05 2.85M-0.05 6.95L4.05 11.05M8.15 -1.25L12.25 2.85M8.15 6.95L12.25 11.05" stroke="#000" stroke-width="1.6"/></pattern></defs>
</svg>
</body></html>
